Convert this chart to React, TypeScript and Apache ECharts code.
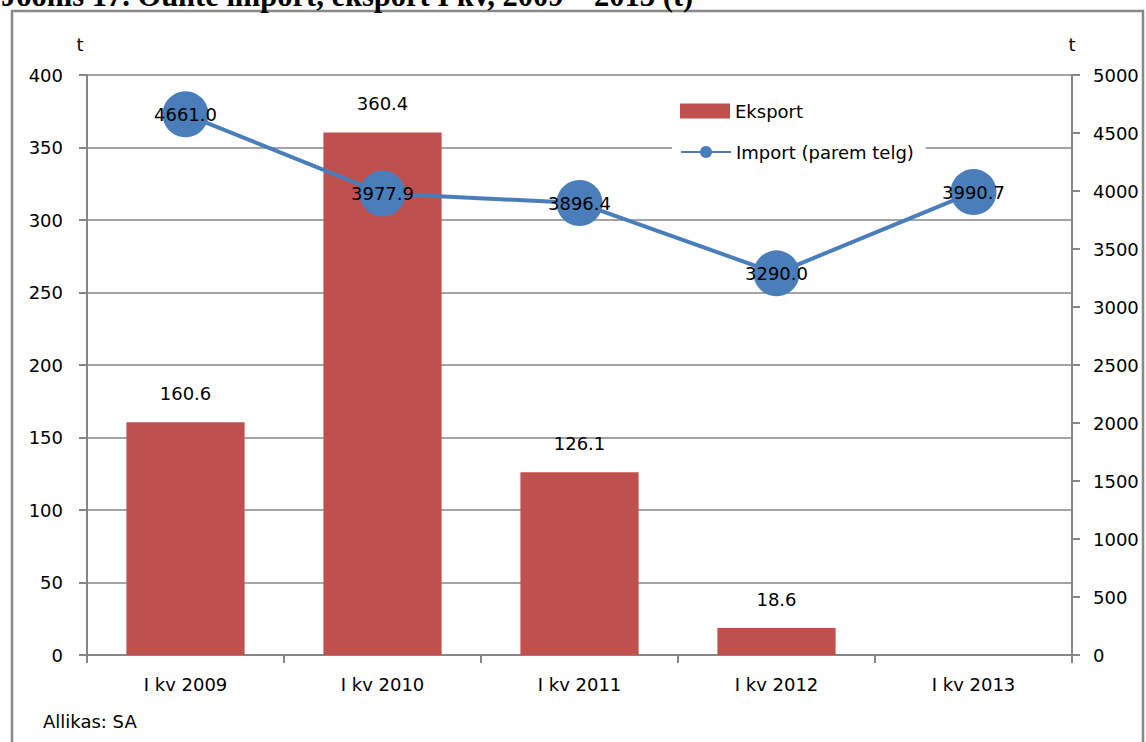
import React, { useEffect, useRef } from "react";
import * as echarts from "echarts";

const categories = ["I kv 2009", "I kv 2010", "I kv 2011", "I kv 2012", "I kv 2013"];
const exportValues: (number | null)[] = [160.6, 360.4, 126.1, 18.6, null];
const importValues = [4661.0, 3977.9, 3896.4, 3290.0, 3990.7];
const exportName = "Eksport";
const importName = "Import (parem telg)";
const titleText = "Joonis 17. Õunte import, eksport I kv, 2009 – 2013 (t)";
const sourceText = "Allikas: SA";

const FONT = "DejaVu Sans";
const AXIS = "#868686";

export default function App() {
  const ref = useRef<HTMLDivElement>(null);
  useEffect(() => {
    if (!ref.current) return;
    const chart = echarts.init(ref.current, undefined, { renderer: "svg" });
    const legendBase = {
      orient: "vertical",
      left: 672,
      itemWidth: 50,
      itemHeight: 15,
      backgroundColor: "#fff",
      textStyle: { fontFamily: FONT, fontSize: 18, color: "#000" },
    };
    chart.setOption({
      animation: false,
      backgroundColor: "#fff",
      textStyle: { fontFamily: FONT },
      grid: { left: 87, right: 74, top: 75, bottom: 87 },
      legend: [
        { ...legendBase, top: 94, padding: [8, 8, 6, 8], data: [{ name: exportName, icon: "rect" }] },
        { ...legendBase, top: 137, padding: [6, 12, 10, 8], data: [{ name: importName }] },
      ],
      xAxis: {
        type: "category",
        data: categories,
        axisLine: { lineStyle: { color: AXIS, width: 2 } },
        axisTick: { show: true, interval: 0, length: 8, lineStyle: { color: AXIS, width: 2 } },
        axisLabel: { fontFamily: FONT, fontSize: 18, color: "#000", margin: 20 },
      },
      yAxis: [
        {
          type: "value",
          min: 0,
          max: 400,
          interval: 50,
          name: "t",
          nameLocation: "end",
          nameGap: 22,
          nameTextStyle: { fontFamily: FONT, fontSize: 18, color: "#000", padding: [0, 14, 0, 0] },
          axisLine: { show: true, lineStyle: { color: AXIS, width: 2 } },
          axisTick: { show: true, length: 8, lineStyle: { color: AXIS, width: 2 } },
          splitLine: { show: true, lineStyle: { color: AXIS, width: 1.5 } },
          axisLabel: { fontFamily: FONT, fontSize: 18, color: "#000", margin: 24 },
        },
        {
          type: "value",
          min: 0,
          max: 5000,
          interval: 500,
          name: "t",
          nameLocation: "end",
          nameGap: 22,
          nameTextStyle: { fontFamily: FONT, fontSize: 18, color: "#000" },
          position: "right",
          axisLine: { show: true, lineStyle: { color: AXIS, width: 2 } },
          axisTick: { show: true, length: 8, lineStyle: { color: AXIS, width: 2 } },
          splitLine: { show: false },
          axisLabel: {
            fontFamily: FONT,
            fontSize: 18,
            color: "#000",
            margin: 21,
            formatter: (v: number) => String(v),
          },
        },
      ],
      series: [
        {
          name: exportName,
          type: "bar",
          data: exportValues,
          barWidth: "60%",
          itemStyle: { color: "#C0504D" },
          label: {
            show: true,
            position: "top",
            distance: 20,
            fontFamily: FONT,
            fontSize: 18,
            color: "#000",
            formatter: (p: any) => (p.value == null ? "" : Number(p.value).toFixed(1)),
          },
        },
        {
          name: importName,
          type: "line",
          yAxisIndex: 1,
          data: importValues,
          symbol: "circle",
          symbolSize: 46,
          z: 3,
          lineStyle: { color: "#4A7EBB", width: 4 },
          itemStyle: { color: "#4A7EBB" },
          label: {
            show: true,
            position: "inside",
            fontFamily: FONT,
            fontSize: 18,
            color: "#000",
            formatter: (p: any) => Number(p.value).toFixed(1),
          },
        },
      ],
      graphic: [
        {
          type: "rect",
          shape: { x: 12, y: 11, width: 1131, height: 740 },
          style: { fill: "none", stroke: "#888", lineWidth: 2.5 },
          silent: true,
          z: -10,
        },
        {
          type: "text",
          x: 1,
          y: 11,
          style: {
            text: titleText,
            font: "bold 30.5px 'Liberation Serif'",
            fill: "#000",
            verticalAlign: "bottom",
          },
        },
        {
          type: "text",
          x: 43,
          y: 721,
          style: {
            text: sourceText,
            font: `18px '${FONT}'`,
            fill: "#000",
            verticalAlign: "middle",
          },
        },
      ],
    });
    return () => chart.dispose();
  }, []);
  return (
    <div
      ref={ref}
      style={{ position: "fixed", left: 0, top: 0, width: 1146, height: 742 }}
    />
  );
}
